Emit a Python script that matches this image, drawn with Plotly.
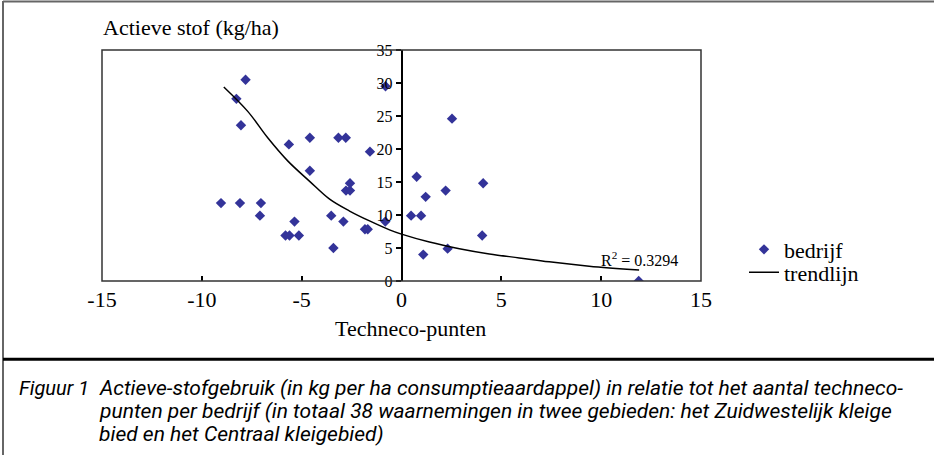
import plotly.graph_objects as go

# Scatter data: techneco-punten (x) vs actieve stof kg/ha (y)
points_x = [-9.04, -8.27, -7.81, -8.04, -8.09, -7.04, -7.09, -5.64, -5.81, -5.61,
            -5.36, -5.14, -4.59, -4.59, -3.52, -3.41, -3.16, -2.79, -2.91, -2.78,
            -2.58, -2.58, -1.83, -1.69, -1.58, -0.81, -0.80, 0.48, 0.76, 0.98,
            1.09, 1.21, 2.21, 2.31, 2.53, 4.09, 4.04, 11.88]
points_y = [11.8, 27.6, 30.5, 23.6, 11.8, 11.8, 9.9, 20.7, 6.9, 6.9,
            9.0, 6.9, 21.7, 16.7, 9.9, 5.0, 21.7, 21.7, 9.0, 13.7,
            13.7, 14.8, 7.85, 7.85, 19.6, 9.0, 29.5, 9.9, 15.8, 9.9,
            4.0, 12.75, 13.7, 4.9, 24.6, 14.8, 6.9, 0.0]

# Trend line
trend_x = [-8.9, -7.7, -6.7, -5.7, -4.6, -3.6, -2.6, -1.6, -0.6, 0.0,
           1.4, 2.9, 4.4, 5.9, 7.4, 9.4, 11.9]
trend_y = [29.4, 25.7, 21.7, 18.2, 15.1, 12.4, 10.6, 9.1, 7.75, 7.1,
           5.9, 4.9, 4.1, 3.5, 2.9, 2.25, 1.65]

x_ticks = [-15, -10, -5, 0, 5, 10, 15]
y_ticks = [0, 5, 10, 15, 20, 25, 30, 35]

r2_label = "R<sup>2</sup> = 0.3294"
y_title = "Actieve stof (kg/ha)"
x_title = "Techneco-punten"
caption_label = "Figuur 1"
caption_lines = [
    "Actieve-stofgebruik (in kg per ha consumptieaardappel) in relatie tot het aantal techneco-",
    "punten per bedrijf (in totaal 38 waarnemingen in twee gebieden: het Zuidwestelijk kleige",
    "bied en het Centraal kleigebied)",
]

SERIF = "Liberation Serif, Times New Roman, serif"
CAPTION_FONT = "Roboto, Liberation Sans, sans-serif"

# page geometry (pixels)
L, T, W, H = 102, 50, 599, 231.5
FW, FH = 934, 456


def px(x):
    return (x - L) / W


def py(y):
    return 1 - (y - T) / H


fig = go.Figure()
fig.add_trace(go.Scatter(
    x=points_x, y=points_y, mode="markers", name="bedrijf", legend="legend",
    marker=dict(symbol="diamond", size=8, color="#333399"),
))
fig.add_trace(go.Scatter(
    x=trend_x, y=trend_y, mode="lines", name="trendlijn", legend="legend2",
    line=dict(color="black", width=1.5, shape="spline"),
))

legend_common = dict(xanchor="left", yanchor="middle",
                     font=dict(family=SERIF, size=22, color="black"),
                     bgcolor="rgba(0,0,0,0)")

fig.update_layout(
    width=FW, height=FH,
    margin=dict(l=L, r=FW - L - W, t=T, b=FH - T - H),
    paper_bgcolor="white", plot_bgcolor="white",
    showlegend=True,
    legend=dict(x=px(744), y=py(250), **legend_common),
    legend2=dict(x=px(744), y=py(273), **legend_common),
    xaxis=dict(range=[-15, 15], tickvals=x_ticks, ticktext=[str(v) for v in x_ticks],
               showgrid=False, zeroline=False, showline=False,
               ticks="inside", ticklen=5, tickcolor="black", tickwidth=1.5,
               tickfont=dict(family=SERIF, size=22, color="black"),
               ticklabelstandoff=3),
    yaxis=dict(range=[0, 35], tickvals=y_ticks, ticktext=[str(v) for v in y_ticks],
               showgrid=False, zeroline=False, showline=True, linecolor="black",
               linewidth=1.5, anchor="free", position=0.5,
               ticks="outside", ticklen=5, tickcolor="black", tickwidth=1.5,
               tickfont=dict(family=SERIF, size=16, color="black")),
    font=dict(family=SERIF, color="black"),
)

shapes = [
    dict(type="rect", xref="paper", yref="paper", x0=0, x1=1, y0=0, y1=1,
         line=dict(color="#333333", width=1.5)),
    dict(type="line", xref="paper", yref="paper", x0=px(3), x1=px(934),
         y0=py(1.5), y1=py(1.5), line=dict(color="#666666", width=2)),
    dict(type="line", xref="paper", yref="paper", x0=px(3), x1=px(3),
         y0=py(456), y1=py(1), line=dict(color="#666666", width=2)),
    dict(type="line", xref="paper", yref="paper", x0=px(3), x1=px(934),
         y0=py(360), y1=py(360), line=dict(color="black", width=3)),
]

annotations = [
    dict(text=y_title, xref="paper", yref="paper", x=px(101), y=py(27),
         xanchor="left", yanchor="middle", showarrow=False,
         font=dict(family=SERIF, size=22, color="black")),
    dict(text=x_title, xref="paper", yref="paper", x=px(410), y=py(329),
         xanchor="center", yanchor="middle", showarrow=False,
         font=dict(family=SERIF, size=22, color="black")),
    dict(text=r2_label, xref="x", yref="y", x=11.9, y=3.3,
         xanchor="center", yanchor="middle", showarrow=False,
         font=dict(family=SERIF, size=16, color="black")),
    dict(text="<i>" + caption_label + "</i>", xref="paper", yref="paper",
         x=px(17), y=py(389), xanchor="left", yanchor="middle",
         showarrow=False, font=dict(family=CAPTION_FONT, size=20, color="black")),
]
for i, line in enumerate(caption_lines):
    annotations.append(dict(
        text="<i>" + line + "</i>", xref="paper", yref="paper",
        x=px(97), y=py(389 + 23 * i), xanchor="left", yanchor="middle",
        showarrow=False, font=dict(family=CAPTION_FONT, size=21, color="black")))

fig.update_layout(shapes=shapes, annotations=annotations)

fig.write_html("out.html", config={"displayModeBar": False},
               post_script="document.body.style.margin='0';document.body.style.overflow='hidden';")
